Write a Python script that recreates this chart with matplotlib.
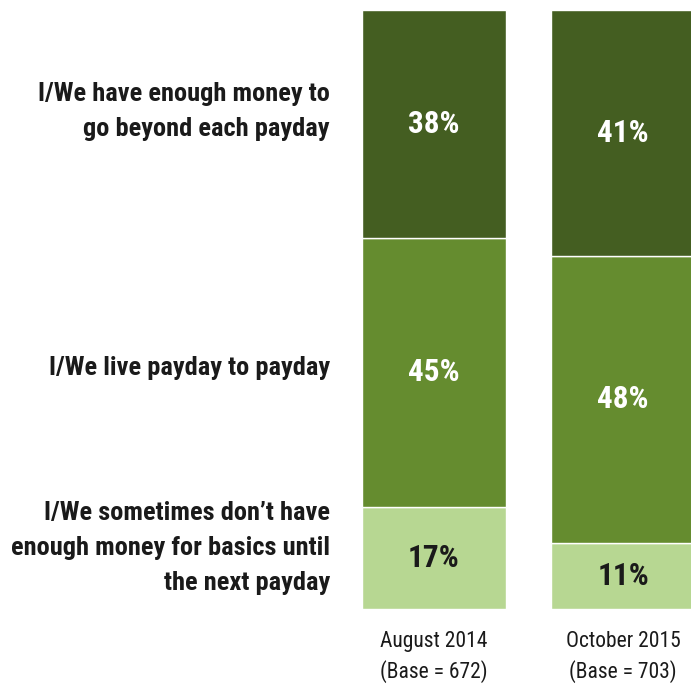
import matplotlib
matplotlib.use('Agg')
import matplotlib.pyplot as plt
from matplotlib import font_manager

names = {f.name for f in font_manager.fontManager.ttflist}
prefs = ['Liberation Sans Narrow', 'Arial Narrow', 'Roboto Condensed', 'PT Sans Narrow']
narrow = next((p for p in prefs if p in names), 'DejaVu Sans')
plt.rcParams['font.family'] = [narrow, 'DejaVu Sans']

periods = ['August 2014\n(Base = 672)', 'October 2015\n(Base = 703)']
basics = [17, 11]
payday = [45, 48]
beyond = [38, 41]
categories = ['I/We sometimes don\u2019t have\nenough money for basics until\nthe next payday',
              'I/We live payday to payday',
              'I/We have enough money to\ngo beyond each payday']

c_light = '#b7d792'
c_mid = '#658c2f'
c_dark = '#445e21'
c_text = '#1a1a1a'

W, H = 691, 692
fig = plt.figure(figsize=(W / 100, H / 100), dpi=100)
ax = fig.add_axes([362 / W, 1 - 609 / H, (W - 362) / W, 599 / H])

x = [0, 1]
width = 144 / 189
ax.bar(x, basics, width, color=c_light, edgecolor='white', linewidth=1)
ax.bar(x, payday, width, bottom=basics, color=c_mid, edgecolor='white', linewidth=1)
bottoms = [a + b for a, b in zip(basics, payday)]
ax.bar(x, beyond, width, bottom=bottoms, color=c_dark, edgecolor='white', linewidth=1)

for i in x:
    ax.text(i, basics[i] / 2, f'{basics[i]}%', ha='center', va='center',
            fontsize=22.5, fontweight='bold', color=c_text)
    ax.text(i, basics[i] + payday[i] / 2, f'{payday[i]}%', ha='center', va='center',
            fontsize=22.5, fontweight='bold', color='white')
    ax.text(i, bottoms[i] + beyond[i] / 2, f'{beyond[i]}%', ha='center', va='center',
            fontsize=22.5, fontweight='bold', color='white')
    ax.text(i, -3.6, periods[i], ha='center', va='top', fontsize=15.5,
            color=c_text, linespacing=1.45)

ax.set_xlim(-width / 2, -width / 2 + (W - 362) / 189)
ax.set_ylim(0, 100)
ax.axis('off')

# category labels on the left
label_y = [10.2, 40.2, 83]
for lab, yy in zip(categories, label_y):
    ax.text(-width / 2 - 32 / 189, yy, lab, ha='right', va='center',
            fontsize=19, fontweight='bold', color=c_text, linespacing=1.58,
            clip_on=False)

fig.savefig('out.png', dpi=100)
